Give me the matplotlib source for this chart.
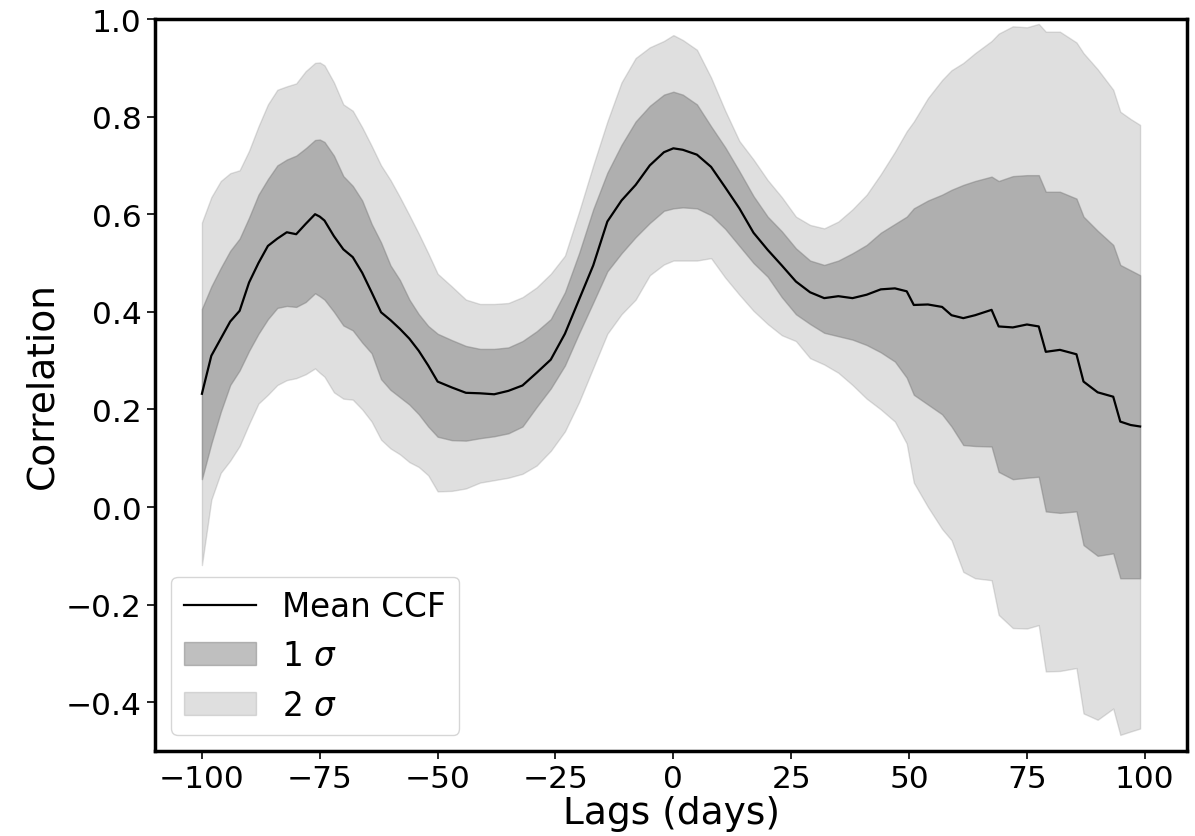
import numpy as np
import matplotlib
matplotlib.use("Agg")
import matplotlib.pyplot as plt

plt.rcParams["font.family"] = ["DejaVu Sans"]

lags = [
    -100, -98, -96, -94, -92, -90, -88, -86, -84, -82,
    -80, -78, -76, -75, -74, -72, -70, -68, -66, -64,
    -62, -60, -58, -56, -54, -52, -50, -47, -44, -41,
    -38, -35, -32, -29, -26, -23, -20, -17, -14, -11,
    -8, -5, -2, 0, 2, 5, 8, 11, 14, 17,
    20, 23, 26, 29, 32, 35, 38, 41, 44, 47,
    49.5, 51, 54, 57, 59, 61.5, 64, 67.5, 69, 72,
    75, 77.5, 79, 82, 85.5, 87, 90, 93.3, 94.8, 97,
    99,
]

mean_ccf = [
    0.232, 0.31, 0.345, 0.38, 0.402, 0.46, 0.50, 0.535, 0.55, 0.563,
    0.559, 0.58, 0.60, 0.595, 0.587, 0.555, 0.528, 0.512, 0.48, 0.44,
    0.399, 0.383, 0.365, 0.345, 0.32, 0.29, 0.257, 0.245, 0.234, 0.233,
    0.231, 0.238, 0.249, 0.275, 0.302, 0.355, 0.425, 0.495, 0.585, 0.628,
    0.66, 0.70, 0.727, 0.735, 0.732, 0.722, 0.697, 0.655, 0.612, 0.562,
    0.527, 0.495, 0.462, 0.44, 0.428, 0.432, 0.428, 0.435, 0.446, 0.448,
    0.442, 0.414, 0.415, 0.41, 0.393, 0.387, 0.393, 0.404, 0.37, 0.368,
    0.374, 0.37, 0.318, 0.322, 0.313, 0.257, 0.235, 0.226, 0.175, 0.168,
    0.165,
]

sig1_hi = [
    0.406, 0.452, 0.49, 0.525, 0.55, 0.593, 0.64, 0.672, 0.70, 0.712,
    0.72, 0.735, 0.752, 0.753, 0.748, 0.72, 0.678, 0.658, 0.628, 0.58,
    0.542, 0.495, 0.465, 0.425, 0.395, 0.371, 0.355, 0.342, 0.33, 0.324,
    0.324, 0.327, 0.34, 0.36, 0.385, 0.44, 0.52, 0.61, 0.685, 0.742,
    0.79, 0.822, 0.845, 0.851, 0.845, 0.825, 0.78, 0.737, 0.688, 0.637,
    0.595, 0.565, 0.53, 0.505, 0.496, 0.505, 0.52, 0.537, 0.562, 0.58,
    0.595, 0.612, 0.628, 0.64, 0.65, 0.66, 0.668, 0.677, 0.668, 0.678,
    0.68, 0.68, 0.646, 0.646, 0.632, 0.595, 0.566, 0.537, 0.496, 0.485,
    0.475,
]

sig1_lo = [
    0.057, 0.13, 0.195, 0.25, 0.28, 0.32, 0.355, 0.385, 0.408, 0.412,
    0.41, 0.42, 0.438, 0.432, 0.425, 0.40, 0.372, 0.362, 0.337, 0.315,
    0.262, 0.24, 0.225, 0.21, 0.19, 0.165, 0.144, 0.137, 0.136, 0.141,
    0.145, 0.151, 0.165, 0.205, 0.243, 0.29, 0.356, 0.419, 0.483, 0.52,
    0.553, 0.582, 0.607, 0.612, 0.614, 0.612, 0.598, 0.57, 0.535, 0.50,
    0.472, 0.43, 0.395, 0.375, 0.357, 0.35, 0.343, 0.332, 0.317, 0.298,
    0.265, 0.23, 0.21, 0.19, 0.165, 0.127, 0.125, 0.124, 0.072, 0.057,
    0.06, 0.062, -0.009, -0.012, -0.009, -0.078, -0.10, -0.095, -0.146, -0.146,
    -0.146,
]

sig2_hi = [
    0.583, 0.635, 0.668, 0.684, 0.69, 0.73, 0.78, 0.825, 0.855, 0.862,
    0.868, 0.893, 0.91, 0.911, 0.905, 0.87, 0.825, 0.812, 0.778, 0.74,
    0.70, 0.67, 0.635, 0.598, 0.56, 0.52, 0.478, 0.452, 0.425, 0.416,
    0.416, 0.418, 0.43, 0.45, 0.478, 0.515, 0.605, 0.70, 0.79, 0.87,
    0.92, 0.942, 0.955, 0.967, 0.957, 0.937, 0.88, 0.812, 0.75, 0.712,
    0.67, 0.635, 0.595, 0.578, 0.571, 0.585, 0.61, 0.64, 0.682, 0.728,
    0.77, 0.79, 0.838, 0.875, 0.895, 0.91, 0.93, 0.955, 0.97, 0.985,
    0.983, 0.99, 0.974, 0.974, 0.952, 0.93, 0.897, 0.855, 0.81, 0.795,
    0.783,
]

sig2_lo = [
    -0.119, 0.015, 0.07, 0.095, 0.125, 0.17, 0.212, 0.23, 0.25, 0.26,
    0.264, 0.272, 0.284, 0.275, 0.267, 0.235, 0.222, 0.22, 0.20, 0.175,
    0.138, 0.12, 0.108, 0.092, 0.082, 0.065, 0.032, 0.033, 0.038, 0.05,
    0.055, 0.06, 0.068, 0.085, 0.115, 0.155, 0.215, 0.285, 0.355, 0.395,
    0.425, 0.475, 0.497, 0.505, 0.505, 0.505, 0.51, 0.47, 0.435, 0.402,
    0.375, 0.352, 0.34, 0.305, 0.292, 0.275, 0.25, 0.222, 0.20, 0.175,
    0.13, 0.05, 0.0, -0.045, -0.068, -0.133, -0.146, -0.15, -0.221, -0.248,
    -0.249, -0.242, -0.337, -0.336, -0.33, -0.423, -0.436, -0.413, -0.467, -0.46,
    -0.454,
]

x = np.array(lags)

fig = plt.figure(figsize=(11.95, 8.37), dpi=100)
ax = fig.add_axes([155 / 1195, 85 / 837, 1032 / 1195, 732 / 837])

ax.plot(x, mean_ccf, color="black", lw=1.6, label="Mean CCF")
ax.fill_between(x, sig1_lo, sig1_hi, color="gray", alpha=0.5, label=r"1 $\sigma$")
ax.fill_between(x, sig2_lo, sig2_hi, color="gray", alpha=0.25, label=r"2 $\sigma$")

ax.set_ylim(-0.5, 1.0)
ax.set_xticks([-100, -75, -50, -25, 0, 25, 50, 75, 100])
ax.set_yticks([-0.4, -0.2, 0.0, 0.2, 0.4, 0.6, 0.8, 1.0])
ax.tick_params(labelsize=22.5, length=6, width=1.2)
for s in ax.spines.values():
    s.set_linewidth(2.5)

ax.set_xlabel("Lags (days)", fontsize=27, labelpad=1)
ax.set_ylabel("Correlation", fontsize=27)
ax.legend(loc="lower left", fontsize=23.5, handlelength=2.2)

fig.savefig("out.png", dpi=100)
